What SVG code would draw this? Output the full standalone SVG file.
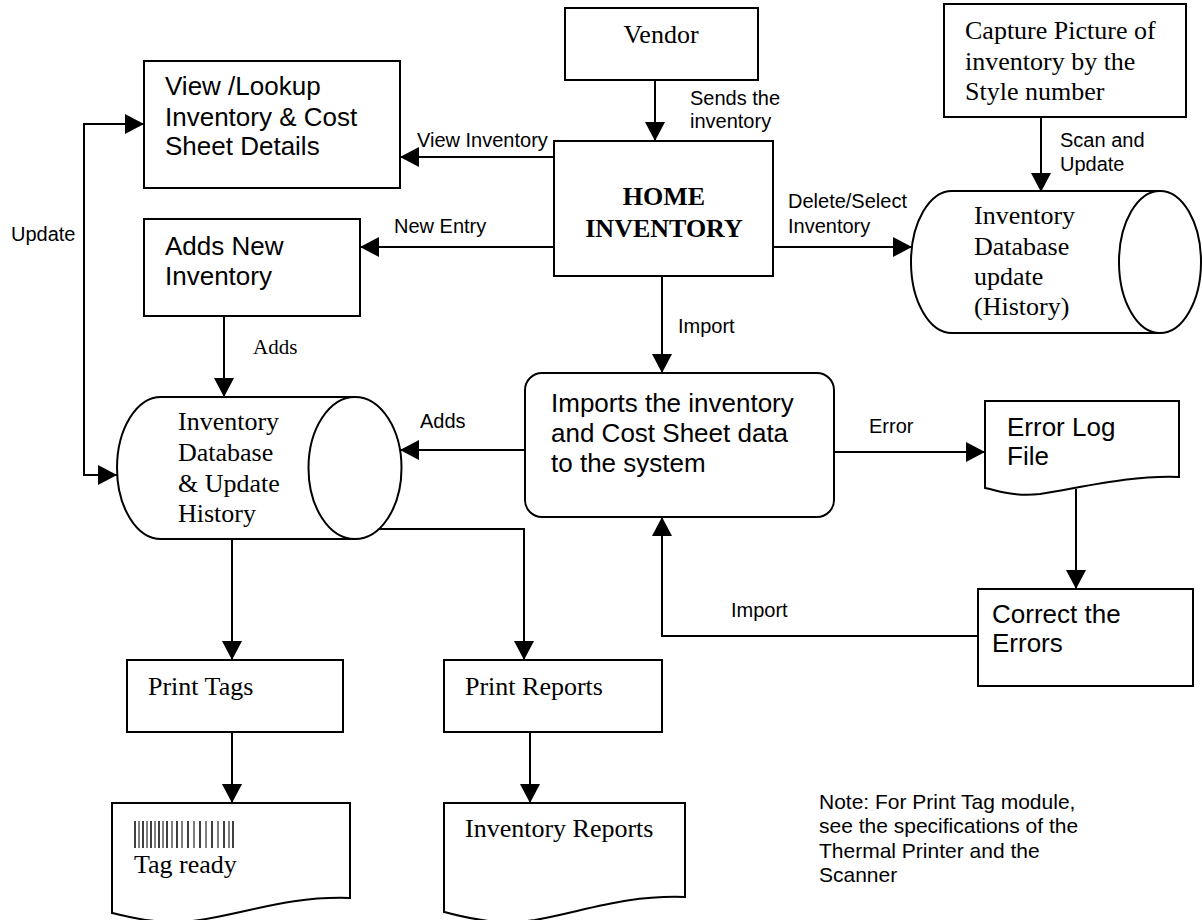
<svg xmlns="http://www.w3.org/2000/svg" width="1202" height="920" viewBox="0 0 1202 920">
  <defs>
    <marker id="arrow" markerUnits="userSpaceOnUse" markerWidth="19" markerHeight="20" refX="19" refY="10" orient="auto-start-reverse">
      <path d="M0,0 L19,10 L0,20 Z" fill="#000"/>
    </marker>
    <style>
      .box { fill: #fff; stroke: #000; stroke-width: 2; }
      .arr { fill: none; stroke: #000; stroke-width: 2; marker-end: url(#arrow); }
      .both { marker-start: url(#arrow); }
      .sans { font-family: "Liberation Sans", Arial, sans-serif; fill: #000; }
      .serif { font-family: "Liberation Serif", "Times New Roman", serif; fill: #000; }
      .body { font-size: 26px; }
      .lbl { font-size: 20px; }
      .note { font-size: 21px; }
      .bold { font-weight: bold; }
      .bar { stroke: #000; }
    </style>
  </defs>
  <rect width="1202" height="920" fill="#fff"/>

  <!-- connectors -->
  <g id="connectors">
    <line class="arr" x1="655" y1="80" x2="655" y2="141"/>
    <line class="arr" x1="554" y1="157" x2="400" y2="157"/>
    <line class="arr" x1="554" y1="247" x2="360" y2="247"/>
    <line class="arr" x1="773" y1="247" x2="912" y2="247"/>
    <line class="arr" x1="1041" y1="117" x2="1041" y2="192"/>
    <line class="arr" x1="662" y1="276" x2="662" y2="373"/>
    <line class="arr" x1="224" y1="316" x2="224" y2="397"/>
    <!-- two-way update loop between lookup and main database -->
    <polyline class="arr both" points="144,124 84,124 84,475 117,475"/>
    <line class="arr" x1="525" y1="450" x2="400" y2="450"/>
    <line class="arr" x1="834" y1="452" x2="985" y2="452"/>
    <line class="arr" x1="1076" y1="489" x2="1076" y2="589"/>
    <polyline class="arr" points="978,636 662,636 662,517"/>
    <line class="arr" x1="232" y1="539" x2="232" y2="660"/>
    <polyline class="arr" points="379,529 524,529 524,660"/>
    <line class="arr" x1="232" y1="732" x2="232" y2="803"/>
    <line class="arr" x1="530" y1="732" x2="530" y2="803"/>
  </g>

  <!-- connector labels -->
  <g id="labels" class="sans lbl">
    <text x="690" y="105">Sends the</text>
    <text x="690" y="128">inventory</text>
    <text x="417" y="147">View Inventory</text>
    <text x="394" y="233">New Entry</text>
    <text x="788" y="208">Delete/Select</text>
    <text x="788" y="233">Inventory</text>
    <text x="1060" y="147">Scan and</text>
    <text x="1060" y="171">Update</text>
    <text x="11" y="241">Update</text>
    <text x="678" y="333">Import</text>
    <text x="420" y="428">Adds</text>
    <text x="869" y="433">Error</text>
    <text x="731" y="617">Import</text>
    <text class="serif" x="253" y="354" style="font-size:21px">Adds</text>
  </g>

  <g id="vendor">
    <rect class="box" x="565" y="8" width="193" height="72"/>
    <text class="serif body" x="661" y="43" text-anchor="middle">Vendor</text>
  </g>

  <g id="home">
    <rect class="box" x="554" y="141" width="219" height="135"/>
    <text class="serif body bold" x="664" y="205" text-anchor="middle">HOME</text>
    <text class="serif body bold" x="664" y="237" text-anchor="middle">INVENTORY</text>
  </g>

  <g id="capture">
    <rect class="box" x="944" y="4" width="242" height="113"/>
    <text class="serif body" x="965" y="39">Capture Picture of</text>
    <text class="serif body" x="965" y="70">inventory by the</text>
    <text class="serif body" x="965" y="100">Style number</text>
  </g>

  <g id="view-lookup">
    <rect class="box" x="144" y="61" width="256" height="127"/>
    <text class="sans body" x="165" y="95">View /Lookup</text>
    <text class="sans body" x="165" y="126">Inventory &amp; Cost</text>
    <text class="sans body" x="165" y="155">Sheet Details</text>
  </g>

  <g id="adds-new">
    <rect class="box" x="144" y="219" width="216" height="97"/>
    <text class="sans body" x="165" y="255">Adds New</text>
    <text class="sans body" x="165" y="285">Inventory</text>
  </g>

  <g id="db-history">
    <path class="box" d="M952,191 H1160 V333 H952 A41,71 0 0 1 952,191 Z"/>
    <ellipse class="box" cx="1160" cy="262" rx="41" ry="71"/>
    <text class="serif body" x="974" y="224">Inventory</text>
    <text class="serif body" x="974" y="255">Database</text>
    <text class="serif body" x="974" y="285">update</text>
    <text class="serif body" x="974" y="315">(History)</text>
  </g>

  <g id="db-main">
    <path class="box" d="M161,397 H355 V539 H161 A44,71 0 0 1 161,397 Z"/>
    <ellipse class="box" cx="355" cy="468" rx="46.5" ry="71"/>
    <text class="serif body" x="178" y="430">Inventory</text>
    <text class="serif body" x="178" y="461">Database</text>
    <text class="serif body" x="178" y="492">&amp; Update</text>
    <text class="serif body" x="178" y="522">History</text>
  </g>

  <g id="import">
    <rect class="box" x="525" y="373" width="309" height="144" rx="17" ry="17"/>
    <text class="sans body" x="551" y="412">Imports the inventory</text>
    <text class="sans body" x="551" y="442">and Cost Sheet data</text>
    <text class="sans body" x="551" y="472">to the system</text>
  </g>

  <g id="error-log">
    <path class="box" d="M985,401 H1179 V477 C1130,475 1080,488 1040,494 C1015,497 1000,491 985,488 Z"/>
    <text class="sans body" x="1007" y="436">Error Log</text>
    <text class="sans body" x="1007" y="465">File</text>
  </g>

  <g id="correct">
    <rect class="box" x="978" y="589" width="215" height="97"/>
    <text class="sans body" x="992" y="623">Correct the</text>
    <text class="sans body" x="992" y="652">Errors</text>
  </g>

  <g id="print-tags">
    <rect class="box" x="127" y="660" width="216" height="72"/>
    <text class="serif body" x="148" y="695">Print Tags</text>
  </g>

  <g id="print-reports">
    <rect class="box" x="444" y="660" width="218" height="72"/>
    <text class="serif body" x="465" y="695">Print Reports</text>
  </g>

  <g id="tag-ready">
    <path class="box" d="M112,803 H350 V898 C290,896 250,912 200,920 C160,926 130,917 112,913 Z"/>
    <g class="bar">
      <line x1="135" y1="821" x2="135" y2="848" stroke-width="1.5"/>
      <line x1="139" y1="821" x2="139" y2="848" stroke-width="1"/>
      <line x1="143" y1="821" x2="143" y2="848" stroke-width="1.5"/>
      <line x1="147" y1="821" x2="147" y2="848" stroke-width="1"/>
      <line x1="151" y1="821" x2="151" y2="848" stroke-width="1.5"/>
      <line x1="155" y1="821" x2="155" y2="848" stroke-width="1"/>
      <line x1="159" y1="821" x2="159" y2="848" stroke-width="1.5"/>
      <line x1="163" y1="821" x2="163" y2="848" stroke-width="1"/>
      <line x1="167" y1="821" x2="167" y2="848" stroke-width="1.5"/>
      <line x1="172" y1="821" x2="172" y2="848" stroke-width="1"/>
      <line x1="177" y1="821" x2="177" y2="848" stroke-width="1.5"/>
      <line x1="182" y1="821" x2="182" y2="848" stroke-width="1"/>
      <line x1="188" y1="821" x2="188" y2="848" stroke-width="1.5"/>
      <line x1="194" y1="821" x2="194" y2="848" stroke-width="1"/>
      <line x1="200" y1="821" x2="200" y2="848" stroke-width="1.5"/>
      <line x1="206" y1="821" x2="206" y2="848" stroke-width="1"/>
      <line x1="212" y1="821" x2="212" y2="848" stroke-width="1.5"/>
      <line x1="218" y1="821" x2="218" y2="848" stroke-width="1"/>
      <line x1="224" y1="821" x2="224" y2="848" stroke-width="1.5"/>
      <line x1="229" y1="821" x2="229" y2="848" stroke-width="1"/>
      <line x1="233" y1="821" x2="233" y2="848" stroke-width="1.5"/>
    </g>
    <text class="serif body" x="134" y="873">Tag ready</text>
  </g>

  <g id="inventory-reports">
    <path class="box" d="M444,803 H685 V897 C625,895 585,911 535,920 C495,926 465,917 444,912 Z"/>
    <text class="serif body" x="465" y="837">Inventory Reports</text>
  </g>

  <g id="note" class="sans note">
    <text x="819" y="809">Note: For Print Tag module,</text>
    <text x="819" y="833">see the specifications of the</text>
    <text x="819" y="858">Thermal Printer and the</text>
    <text x="819" y="882">Scanner</text>
  </g>
</svg>
